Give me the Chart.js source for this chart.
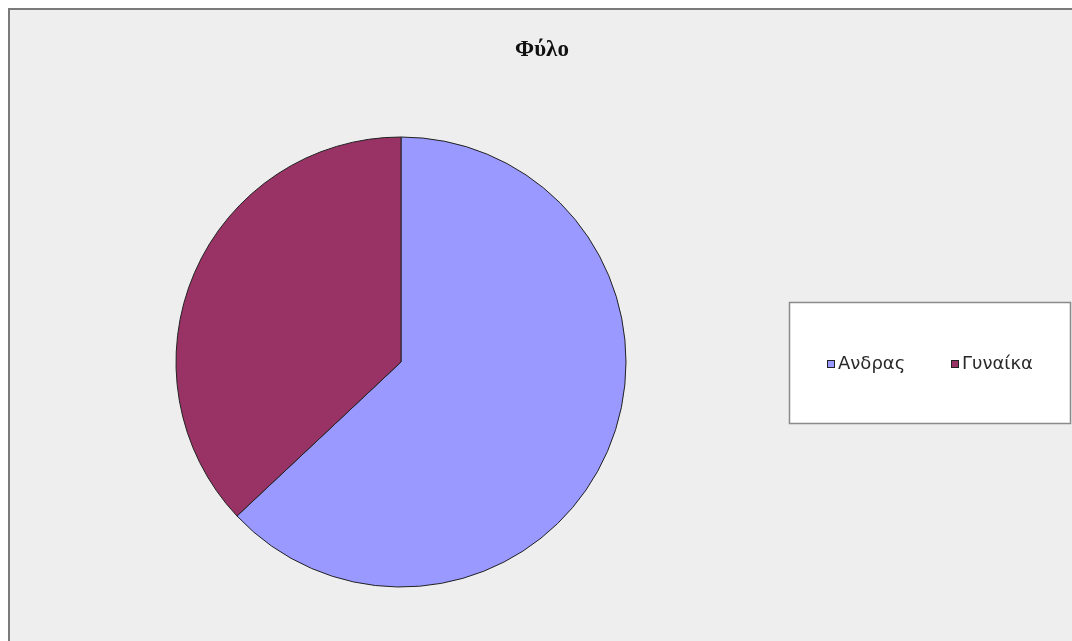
<!DOCTYPE html>
<html>
<head>
<meta charset="utf-8">
<title>Φύλο</title>
<script src="https://cdn.jsdelivr.net/npm/chart.js@4/dist/chart.umd.min.js"></script>
<style>
  html, body { margin: 0; padding: 0; background: #ffffff; }
  #wrap { width: 1072px; height: 641px; }
</style>
</head>
<body>
<div id="wrap"><canvas id="pie" width="1072" height="641"></canvas></div>
<script>
// Gender breakdown
const chartTitle = 'Φύλο';
const categories = ['Ανδρας', 'Γυναίκα'];
const values = [63, 37];
const sliceColors = ['#9999ff', '#993366'];

// Frame, background, title and boxed legend drawn around the pie
const framePlugin = {
  id: 'frame',
  beforeDraw(chart) {
    const ctx = chart.ctx;
    ctx.save();
    ctx.fillStyle = '#ffffff';
    ctx.fillRect(0, 0, chart.width, chart.height);
    ctx.fillStyle = '#eeeeee';
    ctx.fillRect(9, 9, chart.width, chart.height);
    ctx.strokeStyle = '#7a7a7a';
    ctx.lineWidth = 2;
    ctx.beginPath();
    ctx.moveTo(9, chart.height + 5);
    ctx.lineTo(9, 9);
    ctx.lineTo(chart.width + 5, 9);
    ctx.stroke();
    ctx.restore();
  },
  afterDraw(chart) {
    const ctx = chart.ctx;
    ctx.save();
    // title
    ctx.fillStyle = '#111111';
    ctx.font = 'bold 23px "Liberation Serif", serif';
    ctx.textAlign = 'center';
    ctx.textBaseline = 'middle';
    ctx.fillText(chartTitle, 542, 50);

    // legend box
    ctx.fillStyle = '#ffffff';
    ctx.fillRect(789.5, 302.5, 281, 121);
    ctx.strokeStyle = '#8a8a8a';
    ctx.lineWidth = 1.5;
    ctx.strokeRect(789.5, 302.5, 281, 121);

    ctx.font = '18px "DejaVu Sans", sans-serif';
    ctx.textAlign = 'left';
    ctx.textBaseline = 'middle';
    const starts = [827, 951];
    const ly = 364;
    categories.forEach((name, i) => {
      const x = starts[i];
      ctx.fillStyle = sliceColors[i];
      ctx.fillRect(x, ly - 4, 8, 8);
      ctx.strokeStyle = '#222222';
      ctx.lineWidth = 1;
      ctx.strokeRect(x + 0.5, ly - 3.5, 7, 7);
      ctx.fillStyle = '#2a2a2a';
      ctx.fillText(name, x + 11, ly);
    });
    ctx.restore();
  }
};

new Chart(document.getElementById('pie'), {
  type: 'pie',
  data: {
    labels: categories,
    datasets: [{
      data: values,
      backgroundColor: sliceColors,
      borderColor: '#222222',
      borderWidth: 1
    }]
  },
  options: {
    responsive: false,
    animation: false,
    devicePixelRatio: 1,
    layout: {
      padding: { left: 175.5, top: 136.5, right: 445.5, bottom: 53.5 }
    },
    plugins: {
      legend: { display: false },
      title: { display: false },
      tooltip: { enabled: false }
    }
  },
  plugins: [framePlugin]
});
</script>
</body>
</html>
